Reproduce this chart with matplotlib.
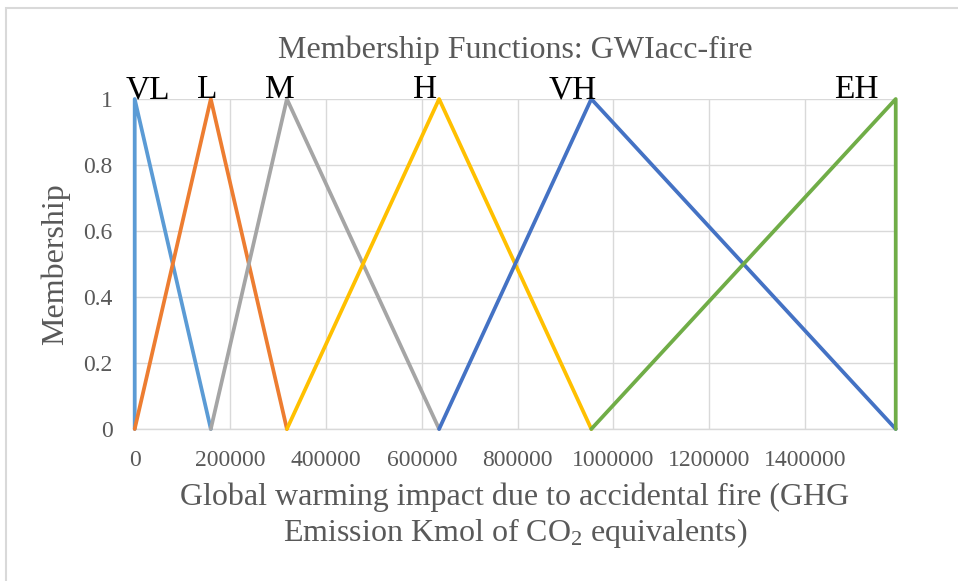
import matplotlib
matplotlib.use("Agg")
import matplotlib.pyplot as plt
from matplotlib.patches import Rectangle

plt.rcParams['font.family'] = ['Liberation Serif', 'DejaVu Serif']
plt.rcParams['mathtext.default'] = 'regular'

# fuzzy sets for GWIacc-fire (triangular membership functions)
names = ['VL', 'L', 'M', 'H', 'VH', 'EH']
vl_x = [0, 0, 159000]
vl_y = [0, 1, 0]
l_x = [0, 159000, 318000]
l_y = [0, 1, 0]
m_x = [159000, 318000, 636000]
m_y = [0, 1, 0]
h_x = [318000, 636000, 954000]
h_y = [0, 1, 0]
vh_x = [636000, 954000, 1590000]
vh_y = [0, 1, 0]
eh_x = [954000, 1590000, 1590000]
eh_y = [0, 1, 0]
peaks = [0, 159000, 318000, 636000, 954000, 1590000]

x_ticks = [0, 200000, 400000, 600000, 800000, 1000000, 1200000, 1400000]
y_ticks = [0, 0.2, 0.4, 0.6, 0.8, 1]

colors = ['#5B9BD5', '#ED7D31', '#A5A5A5', '#FFC000', '#4472C4', '#70AD47']
label_dx = [13, -4, -7, -14, -19, -39]

fig = plt.figure(figsize=(9.58, 5.81), dpi=100)
fig.patches.append(Rectangle((6 / 958, -0.1), 1.2, 1 - 8 / 581 + 0.1,
                             transform=fig.transFigure, fill=False,
                             edgecolor='#D9D9D9', linewidth=1.5))
ax = fig.add_axes([0.1406, 0.2616, 0.7944, 0.568])

series = [(vl_x, vl_y), (l_x, l_y), (m_x, m_y), (h_x, h_y), (vh_x, vh_y), (eh_x, eh_y)]
for (xs, ys), c in zip(series, colors):
    ax.plot(xs, ys, color=c, linewidth=2.7, solid_joinstyle='round',
            solid_capstyle='round', clip_on=False, zorder=3)

for name, px, dx in zip(names, peaks, label_dx):
    ax.annotate(name, (px, 1), xytext=(dx, 1), textcoords='offset pixels',
                ha='center', va='baseline', fontsize=24, color='black')

ax.set_xlim(0, 1590000)
ax.set_ylim(0, 1)
ax.set_xticks(x_ticks)
ax.set_xticklabels([str(t) for t in x_ticks])
ax.set_yticks(y_ticks)
ax.set_yticklabels(['0', '0.2', '0.4', '0.6', '0.8', '1'])
ax.grid(True, color='#D9D9D9', linewidth=1)
ax.set_axisbelow(True)
for side in ['top', 'right', 'left']:
    ax.spines[side].set_visible(False)
ax.spines['bottom'].set_color('#D9D9D9')
ax.spines['bottom'].set_linewidth(1)
ax.tick_params(length=0, labelsize=17, colors='#595959')
ax.tick_params(axis='x', pad=15)
ax.tick_params(axis='y', pad=16)

ax.set_ylabel('Membership', fontsize=23, color='#595959')
ax.yaxis.set_label_coords(-0.085, 0.5)

fig.text(515 / 958, 1 - 50 / 581, 'Membership Functions: GWIacc-fire',
         ha='center', va='center', fontsize=23, color='#595959')
fig.text(515 / 958, 1 - 516 / 581,
         'Global warming impact due to accidental fire (GHG\nEmission Kmol of CO$_2$ equivalents)',
         ha='center', va='center', fontsize=23, color='#595959', linespacing=1.15)

fig.savefig('out.png', dpi=100)
